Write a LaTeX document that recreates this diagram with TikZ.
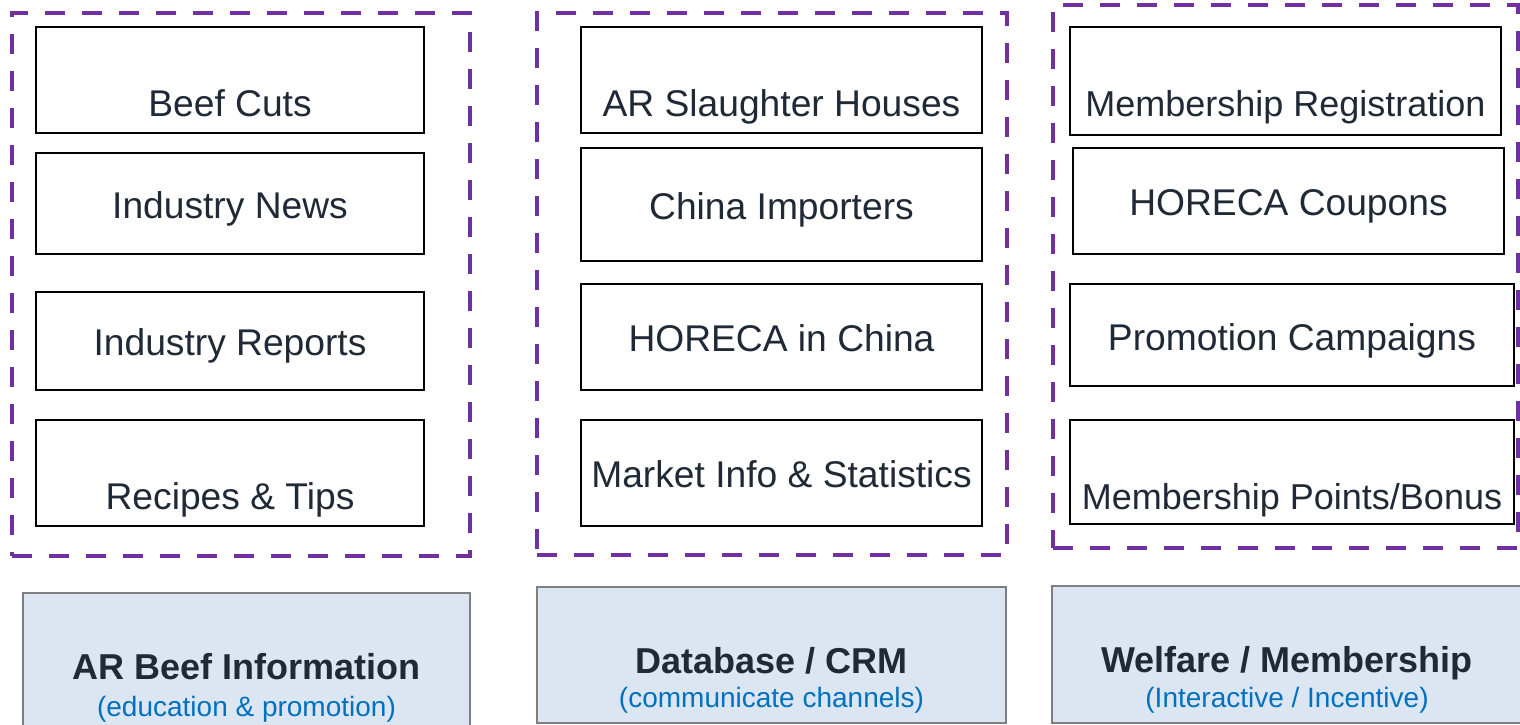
\documentclass[tikz,border=0pt]{standalone}
\usepackage{fontspec}
\setmainfont{Liberation Sans}
\definecolor{dpurple}{HTML}{7030A0}
\definecolor{txtdark}{HTML}{1F2A36}
\definecolor{subblue}{HTML}{0070C0}
\definecolor{lightfill}{HTML}{DCE6F2}
\definecolor{graybd}{HTML}{7F7F7F}
\tikzset{
  grp/.style={draw=dpurple, line width=4.5pt, dash pattern=on 20pt off 17pt, inner sep=0pt},
  inbox/.style={draw=black, line width=2.5pt, fill=white, inner sep=0pt},
  botbox/.style={draw=graybd, line width=2.5pt, fill=lightfill, inner sep=0pt},
  lbl/.style={text=txtdark, font=\fontsize{37.2}{42}\selectfont, inner sep=0pt},
  lblsm/.style={text=txtdark, font=\fontsize{36}{40}\selectfont, inner sep=0pt},
  ttl/.style={text=txtdark, font=\fontsize{36}{40}\selectfont\bfseries, inner sep=0pt},
  sub/.style={text=subblue, font=\fontsize{28}{32}\selectfont, inner sep=0pt},
}
\newcommand\rectnode[6]{% style, name, x1, y1, x2, y2
  \node[#1, minimum width={#5-#3}, minimum height={#6-#4}] (#2) at ({(#3+#5)/2},{(#4+#6)/2}) {};}
\newcommand\inbx[8][lbl]{% [label style] name, x1,y1,x2,y2, baseline, text
  \rectnode{inbox}{#2}{#3}{#4}{#5}{#6}
  \node[#1, anchor=base] (#2-t) at ({(#3+#5)/2},#7) {#8};}
\begin{document}
\begin{tikzpicture}[x=1pt,y=-1pt]
\useasboundingbox (0,0) rectangle (1520,725);
\clip (0,0) rectangle (1520,725);
% dashed groups
\rectnode{grp}{g1}{12}{13}{470}{556}
\rectnode{grp}{g2}{537}{13}{1007}{555}
\rectnode{grp}{g3}{1053}{5}{1518}{548}
% column 1
\inbx{c1a}{36}{27}{424}{133}{116}{Beef Cuts}
\inbx{c1b}{36}{153}{424}{254}{218}{Industry News}
\inbx{c1c}{36}{292}{424}{390}{355}{Industry Reports}
\inbx{c1d}{36}{420}{424}{526}{509}{Recipes \& Tips}
% column 2
\inbx{c2a}{581}{27}{982}{133}{116}{AR Slaughter Houses}
\inbx{c2b}{581}{148}{982}{261}{219}{China Importers}
\inbx{c2c}{581}{284}{982}{390}{351}{HORECA in China}
\inbx{c2d}{581}{420}{982}{526}{487}{Market Info \& Statistics}
% column 3
\inbx[lblsm]{c3a}{1070}{27}{1501}{135}{116}{Membership Registration}
\inbx{c3b}{1073}{148}{1504}{254}{215}{HORECA Coupons}
\inbx{c3c}{1070}{284}{1514}{386}{350}{Promotion Campaigns}
\inbx[lblsm]{c3d}{1070}{420}{1514}{524}{509}{Membership Points/Bonus}
% bottom boxes
\rectnode{botbox}{b1}{23}{593}{470}{735}
\node[ttl, anchor=base] (b1-t) at (246.5,679) {AR Beef Information};
\node[sub, anchor=base] (b1-s) at (246.5,716) {(education \& promotion)};
\rectnode{botbox}{b2}{537}{587}{1006}{723}
\node[ttl, anchor=base] (b2-t) at (771.5,673) {Database / CRM};
\node[sub, anchor=base] (b2-s) at (771.5,707) {(communicate channels)};
\rectnode{botbox}{b3}{1052}{586}{1524}{723}
\node[ttl, anchor=base] (b3-t) at (1287,672) {Welfare / Membership};
\node[sub, anchor=base] (b3-s) at (1287,707) {(Interactive / Incentive)};
\end{tikzpicture}
\end{document}
